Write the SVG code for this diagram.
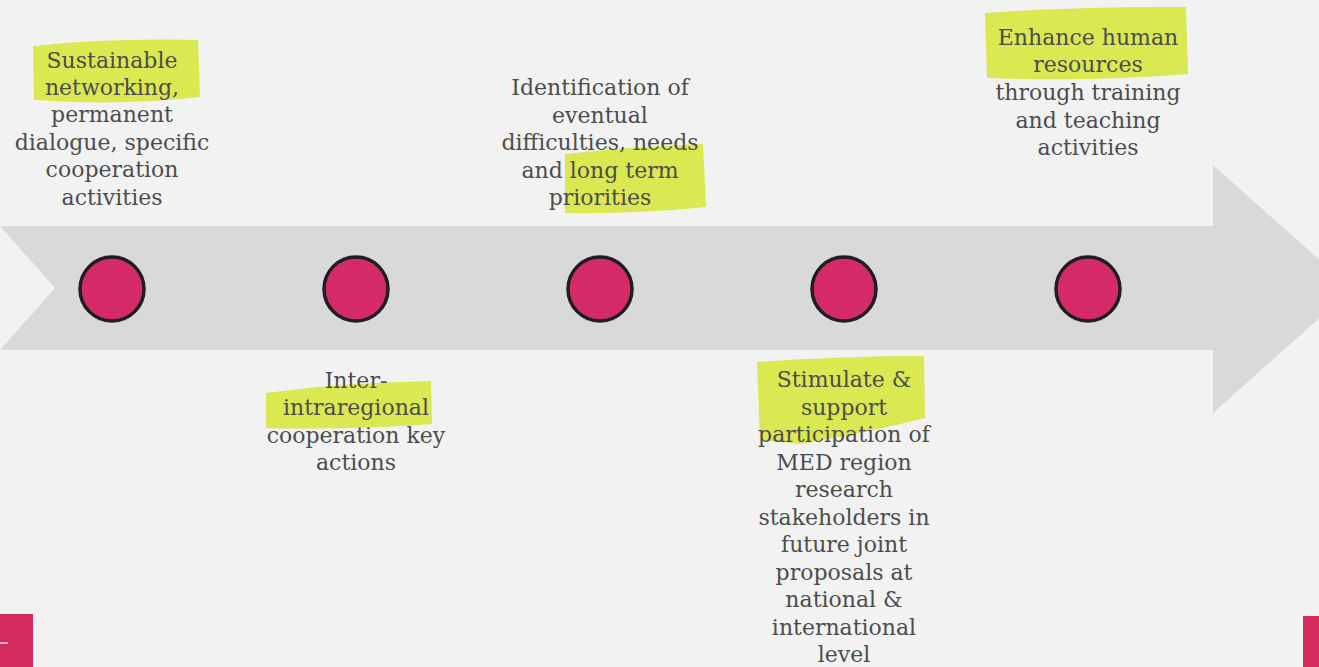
<svg xmlns="http://www.w3.org/2000/svg" width="1319" height="667" viewBox="0 0 1319 667">
<style>
.t{font-family:"DejaVu Serif","Liberation Serif",serif;font-size:22px;fill:#4d4d4d;text-anchor:middle}
.hl{fill:#d6e63a;opacity:0.88}
.dot{fill:#d42a6a;stroke:#1e1e1e;stroke-width:3.5}
</style>
<rect width="1319" height="667" fill="#f2f2f2"/>
<g id="arrow">
<path d="M0,226 L1213,226 L1213,165 L1352,289 L1213,413 L1213,350 L0,350 L55,288 Z" fill="#d9d9d9"/>
</g>
<g id="corners">
<rect x="0" y="614" width="33" height="53" fill="#d42a5e"/>
<rect x="0" y="642" width="8" height="2" fill="#f0b0c4"/>
<rect x="1303" y="616" width="16" height="51" fill="#d42a5e"/>
</g>
<g id="connectors"></g>
<g id="highlights">
<path class="hl" d="M33,46 Q110,38 198,40 L200,97 Q120,106 34,100 Z"/>
<path class="hl" d="M565,154 Q640,146 703,144 L706,207 Q640,214 565,213 Z"/>
<path class="hl" d="M985,13 Q1090,6 1186,7 L1188,74 Q1090,82 987,78 Z"/>
<path class="hl" d="M266,393 Q350,382 431,381 L432,424 Q350,430 266,428 Z"/>
<path class="hl" d="M757,362 Q840,356 924,356 L925,418 Q870,432 800,444 L760,440 Z"/>
</g>
<g id="node1">
<circle class="dot" cx="112" cy="289" r="32"/>
<text class="t" x="112" y="68">Sustainable</text>
<text class="t" x="112" y="95">networking,</text>
<text class="t" x="112" y="122">permanent</text>
<text class="t" x="112" y="150">dialogue, specific</text>
<text class="t" x="112" y="177">cooperation</text>
<text class="t" x="112" y="205">activities</text>
</g>
<g id="node2">
<circle class="dot" cx="356" cy="289" r="32"/>
<text class="t" x="356" y="388">Inter-</text>
<text class="t" x="356" y="415">intraregional</text>
<text class="t" x="356" y="443">cooperation key</text>
<text class="t" x="356" y="470">actions</text>
</g>
<g id="node3">
<circle class="dot" cx="600" cy="289" r="32"/>
<text class="t" x="600" y="95">Identification of</text>
<text class="t" x="600" y="123">eventual</text>
<text class="t" x="600" y="150">difficulties, needs</text>
<text class="t" x="600" y="178">and long term</text>
<text class="t" x="600" y="205">priorities</text>
</g>
<g id="node4">
<circle class="dot" cx="844" cy="289" r="32"/>
<text class="t" x="844" y="387">Stimulate &amp;</text>
<text class="t" x="844" y="415">support</text>
<text class="t" x="844" y="442">participation of</text>
<text class="t" x="844" y="470">MED region</text>
<text class="t" x="844" y="497">research</text>
<text class="t" x="844" y="525">stakeholders in</text>
<text class="t" x="844" y="552">future joint</text>
<text class="t" x="844" y="580">proposals at</text>
<text class="t" x="844" y="607">national &amp;</text>
<text class="t" x="844" y="635">international</text>
<text class="t" x="844" y="662">level</text>
</g>
<g id="node5">
<circle class="dot" cx="1088" cy="289" r="32"/>
<text class="t" x="1088" y="45">Enhance human</text>
<text class="t" x="1088" y="72">resources</text>
<text class="t" x="1088" y="100">through training</text>
<text class="t" x="1088" y="128">and teaching</text>
<text class="t" x="1088" y="155">activities</text>
</g>
</svg>
